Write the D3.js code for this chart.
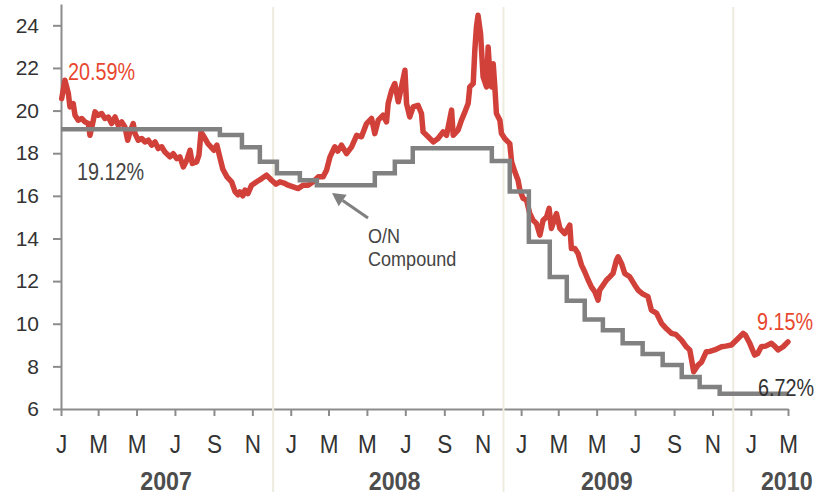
<!DOCTYPE html>
<html>
<head>
<meta charset="utf-8">
<script src="https://d3js.org/d3.v7.min.js"></script>
<style>
  body { margin: 0; background: #fff; }
  text { font-family: "Liberation Sans", Arial, sans-serif; }
</style>
</head>
<body>
<svg id="chart" width="817" height="496"></svg>
<script>
// market rate, daily-ish trace: years elapsed since 1 Jan 2007 and value in %
var redT = [0.003,0.017,0.032,0.039,0.053,0.061,0.075,0.090,0.104,0.119,0.126,0.136,0.148,0.162,0.177,0.191,0.206,0.220,0.235,0.249,
  0.264,0.278,0.290,0.300,0.314,0.322,0.336,0.351,0.365,0.380,0.394,0.409,0.423,0.438,0.452,0.474,0.488,0.503,0.517,0.532,
  0.547,0.561,0.571,0.590,0.600,0.609,0.626,0.639,0.652,0.665,0.678,0.691,0.704,0.722,0.742,0.757,0.770,0.778,0.791,0.800,
  0.813,0.829,0.851,0.873,0.894,0.916,0.935,0.952,0.970,0.988,1.010,1.032,1.053,1.075,1.097,1.119,1.140,1.155,1.170,1.191,
  1.204,1.220,1.242,1.264,1.286,1.307,1.329,1.351,1.365,1.380,1.401,1.416,1.423,1.438,1.452,1.467,1.481,1.496,1.503,1.517,
  1.532,1.553,1.568,1.575,1.597,1.619,1.640,1.662,1.677,1.699,1.706,1.727,1.742,1.757,1.771,1.778,1.793,1.800,1.807,1.814,
  1.825,1.836,1.851,1.858,1.865,1.873,1.880,1.887,1.894,1.909,1.916,1.930,1.952,1.960,1.974,1.988,1.996,2.010,2.025,2.039,
  2.053,2.068,2.083,2.097,2.112,2.123,2.133,2.155,2.170,2.191,2.213,2.220,2.235,2.249,2.264,2.278,2.293,2.307,2.322,2.336,
  2.343,2.358,2.373,2.387,2.401,2.416,2.423,2.438,2.452,2.474,2.496,2.510,2.530,2.553,2.568,2.590,2.612,2.635,2.655,2.674,
  2.699,2.720,2.735,2.743,2.752,2.771,2.786,2.807,2.822,2.843,2.873,2.891,2.916,2.945,2.967,2.978,2.996,3.017,3.030,3.046,
  3.065,3.090,3.104,3.119,3.141,3.162]
var redV = [20.56,21.42,20.80,20.17,20.33,19.78,19.55,19.63,19.47,19.39,18.84,19.31,19.94,19.78,19.86,19.63,19.70,19.39,19.70,19.31,
  19.47,19.23,18.61,19.00,19.39,18.92,18.61,18.69,18.53,18.61,18.38,18.53,18.22,18.30,18.06,17.83,17.98,17.75,17.83,17.36,
  17.67,18.14,17.52,17.59,17.91,19.00,18.70,18.45,18.30,18.14,18.38,17.80,17.25,16.89,16.66,16.20,16.05,16.19,16.00,16.27,
  16.10,16.50,16.66,16.81,16.97,16.73,16.55,16.66,16.60,16.50,16.42,16.34,16.50,16.50,16.66,16.89,16.89,17.20,17.83,18.30,
  18.10,18.38,17.98,18.30,18.84,18.77,19.39,19.63,18.92,19.55,19.78,19.47,20.33,20.95,21.27,20.41,21.11,21.89,20.33,19.70,
  20.17,20.25,19.86,19.00,18.77,18.53,18.69,19.00,18.84,20.02,18.84,19.08,19.55,19.94,20.33,21.11,21.27,22.83,23.92,24.47,
  23.61,21.58,21.11,22.98,21.73,21.11,22.20,21.11,19.86,19.55,18.92,18.69,18.45,17.60,17.13,16.73,16.27,15.88,15.80,15.17,
  14.86,14.70,14.16,14.86,15.01,15.41,14.47,15.17,14.47,14.23,14.63,13.53,13.53,13.30,12.75,12.44,12.05,11.73,11.50,11.11,
  11.58,11.81,12.05,12.20,12.36,12.98,13.14,12.83,12.36,12.20,11.81,11.58,11.40,11.27,10.64,10.50,10.02,9.75,9.55,9.50,
  9.23,8.92,8.77,8.30,7.75,8.06,8.20,8.69,8.70,8.77,8.92,8.95,9.00,9.31,9.55,9.45,9.08,8.53,8.60,8.92,
  8.95,9.08,8.95,8.77,8.92,9.15]

// O/N compound rate, step changes: years since 1 Jan 2007 and value in %
var onT = [0.000,0.691,0.787,0.865,0.939,1.039,1.113,1.365,1.452,1.530,1.874,1.952,2.035,2.126,2.200,2.278,2.357,2.443,2.530,2.617,2.700,2.778,2.865,3.162]
var onV = [19.12,18.85,18.28,17.60,17.06,16.73,16.50,17.06,17.60,18.23,17.63,16.20,13.85,12.19,11.08,10.20,9.70,9.09,8.58,8.06,7.50,7.03,6.72,6.72]

var monthLetters = ["J","F","M","A","M","J","J","A","S","O","N","D"]
var yearLabels = ["2007","2008","2009","2010"]
var yTicks = [6,8,10,12,14,16,18,20,22,24]

window.onload = () => {
  draw_chart()
}

function toDate(t) {
  return new Date(new Date(2007,0,1).getTime() + t*365.25*864e5)
}

function draw_chart(){
  var svg = d3.select("#chart")

  var x = d3.scaleTime()
    .domain([new Date(2007,0,1), new Date(2010,2,1)])
    .range([61, 788])
  var y = d3.scaleLinear()
    .domain([6, 25])
    .range([409, 4])

  // Y axis
  var gy = svg.append("g")
    .attr("transform", "translate(61,0)")
    .call(d3.axisLeft(y).tickValues(yTicks).tickSize(8).tickPadding(14).tickSizeOuter(0))
  gy.selectAll("text").attr("font-size", 21).attr("font-family", null).attr("fill", "#333")

  // X axis, one tick every two months
  var monthTicks = d3.timeMonth.every(2).range(new Date(2007,0,1), new Date(2010,2,2))
  var gx = svg.append("g")
    .attr("transform", "translate(0,409)")
    .call(d3.axisBottom(x).tickValues(monthTicks)
      .tickFormat(function(d){ return monthLetters[d.getMonth()] })
      .tickSize(7).tickPadding(19).tickSizeOuter(0))
  gx.selectAll("text").attr("font-size", 25).attr("font-family", null).attr("fill", "#333")
    .attr("transform", "scale(0.9,1)")

  svg.selectAll(".domain, .tick line")
    .attr("stroke", "#8c8c8c")
    .attr("stroke-width", 2)

  // year separators (early December)
  var seps = [new Date(2007,11,4), new Date(2008,11,4), new Date(2009,11,4)]
  svg.append("g")
    .selectAll("line")
    .data(seps)
    .enter()
    .append("line")
      .attr("x1", function(d){ return x(d) })
      .attr("x2", function(d){ return x(d) })
      .attr("y1", 7)
      .attr("y2", 492)
      .attr("stroke", "#eeebdf")
      .attr("stroke-width", 2)

  // year labels
  var yearAt = [new Date(2007,5,17), new Date(2008,5,14), new Date(2009,4,17), new Date(2010,1,27)]
  svg.append("g")
    .selectAll("text")
    .data(yearLabels)
    .enter()
    .append("text")
      .attr("transform", function(d, i){ return "translate(" + x(yearAt[i]) + ",490) scale(0.93,1)" })
      .attr("text-anchor", "middle")
      .attr("font-size", 25)
      .attr("font-weight", "bold")
      .attr("fill", "#4d4d4d")
      .text(function(d){ return d })

  var red = redT.map(function(t, i){ return {date: toDate(t), value: redV[i]} })
  var on = onT.map(function(t, i){ return {date: toDate(t), value: onV[i]} })

  svg.append("path")
    .datum(red)
    .attr("fill", "none")
    .attr("stroke", "#d2403a")
    .attr("stroke-width", 5.5)
    .attr("stroke-linejoin", "round")
    .attr("stroke-linecap", "round")
    .attr("d", d3.line()
      .x(function(d){ return x(d.date) })
      .y(function(d){ return y(d.value) }))

  svg.append("path")
    .datum(on)
    .attr("fill", "none")
    .attr("stroke", "#818181")
    .attr("stroke-width", 4.5)
    .attr("d", d3.line()
      .curve(d3.curveStepAfter)
      .x(function(d){ return x(d.date) })
      .y(function(d){ return y(d.value) }))

  // value labels, slightly condensed type
  function label(txt, px, py, color, size, sx) {
    svg.append("text")
      .attr("transform", "translate(" + px + "," + py + ") scale(" + sx + ",1)")
      .attr("font-size", size)
      .attr("fill", color)
      .text(txt)
  }
  label("20.59%", 68, 80, "#e8472e", 23, 0.86)
  label("19.12%", 77, 180, "#444", 23, 0.86)
  label("9.15%", 757, 330, "#e8472e", 23, 0.86)
  label("6.72%", 758, 396, "#333", 23, 0.86)
  label("O/N", 368, 243, "#444", 21, 0.86)
  label("Compound", 368, 266, "#444", 21, 0.86)

  // arrow to the O/N line
  var from = [368, 218], tip = [332, 193]
  var dx = tip[0] - from[0], dy = tip[1] - from[1]
  var len = Math.sqrt(dx*dx + dy*dy)
  var ux = dx/len, uy = dy/len
  var base = [tip[0] - ux*13, tip[1] - uy*13]
  svg.append("line")
    .attr("x1", from[0]).attr("y1", from[1])
    .attr("x2", base[0]).attr("y2", base[1])
    .attr("stroke", "#808080")
    .attr("stroke-width", 3)
  svg.append("path")
    .attr("d", "M" + tip + "L" + [base[0] - uy*7, base[1] + ux*7] + "L" + [base[0] + uy*7, base[1] - ux*7] + "Z")
    .attr("fill", "#808080")
}
</script>
</body>
</html>
